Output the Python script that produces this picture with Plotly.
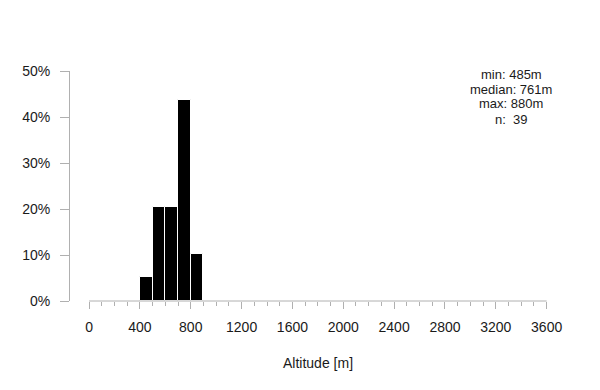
import plotly.graph_objects as go

# Data: histogram of altitude (bin width 100 m)
bin_left = [400, 500, 600, 700, 800]
counts = [2, 8, 8, 17, 4]
bin_width = 100
n_total = 39
stats_lines = ["min: 485m", "median: 761m", "max: 880m", "n:  39"]

x_major = [0, 400, 800, 1200, 1600, 2000, 2400, 2800, 3200, 3600]
x_minor = list(range(0, 3601, 100))
y_ticks = [0, 10, 20, 30, 40, 50]
y_labels = ["0%", "10%", "20%", "30%", "40%", "50%"]

pct = [c / n_total * 100 for c in counts]
centers = [b + bin_width / 2 for b in bin_left]

W, H = 600, 390
L, R, T, B = 70, 40, 71, 89
font = "Liberation Sans, Arial, sans-serif"
axis_col = "#b0b0b0"
text_col = "#1a1a1a"

fig = go.Figure()
fig.add_trace(go.Bar(
    x=centers, y=pct, width=[bin_width] * len(centers),
    marker=dict(color="black", line=dict(color="white", width=1)),
    hoverinfo="skip", showlegend=False,
))

fig.update_layout(
    width=W, height=H,
    margin=dict(l=L, r=R, t=T, b=B, pad=0),
    paper_bgcolor="white", plot_bgcolor="white",
    font=dict(family=font, size=14, color=text_col),
    bargap=0,
    xaxis=dict(
        range=[-150, 3705], showgrid=False, zeroline=False, showline=False,
        tickmode="array", tickvals=x_major, ticktext=[str(v) for v in x_major],
        ticks="outside", ticklen=7, tickwidth=1, tickcolor=axis_col,
        ticklabelstandoff=6,
        minor=dict(tickmode="array", tickvals=x_minor, ticks="outside",
                   ticklen=4, tickwidth=1, tickcolor=axis_col, showgrid=False),
        tickfont=dict(size=14, color=text_col),
        fixedrange=True,
    ),
    yaxis=dict(
        range=[0, 50], showgrid=False, zeroline=False,
        showline=True, linecolor=axis_col, linewidth=1,
        tickmode="array", tickvals=y_ticks, ticktext=y_labels,
        ticks="outside", ticklen=9, tickwidth=1, tickcolor=axis_col,
        ticklabelstandoff=7,
        tickfont=dict(size=14, color=text_col),
        fixedrange=True,
    ),
)

# x-axis line spanning the tick range only
fig.add_shape(type="line", xref="x", yref="paper",
              x0=min(x_major), x1=max(x_major), y0=0, y1=0,
              line=dict(color=axis_col, width=1))

# x-axis title
fig.add_annotation(text="Altitude [m]", xref="x", yref="paper",
                   x=(min(x_major) + max(x_major)) / 2, y=-(363 - (H - B)) / (H - T - B),
                   showarrow=False, xanchor="center", yanchor="middle",
                   font=dict(size=14, color=text_col))

# summary statistics block
plot_h = H - T - B
row_px = [74, 89, 104, 119]
for line, ypx in zip(stats_lines, row_px):
    fig.add_annotation(text=line, xref="paper", yref="paper",
                       x=(511 - L) / (W - L - R), y=((H - B) - ypx) / plot_h,
                       showarrow=False, xanchor="center", yanchor="middle",
                       font=dict(size=13, color=text_col))

fig.write_html("out.html", config={"displayModeBar": False})
